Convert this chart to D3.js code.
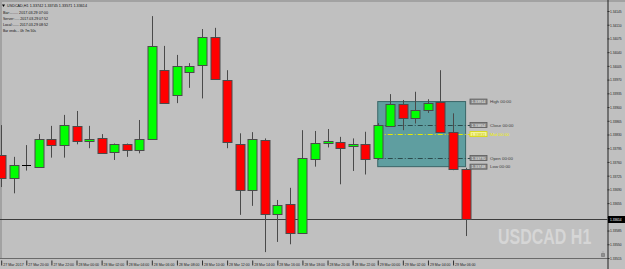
<!DOCTYPE html>
<html><head><meta charset="utf-8">
<script src="https://cdn.jsdelivr.net/npm/d3@7"></script>
<style>body{margin:0;background:#c0c0c0;overflow:hidden}svg{display:block}</style>
</head><body><svg id="c" width="625" height="269"></svg>
<script>
const times = ["27 Mar 18:00","27 Mar 19:00","27 Mar 20:00","27 Mar 21:00","27 Mar 22:00","27 Mar 23:00",
"28 Mar 00:00","28 Mar 01:00","28 Mar 02:00","28 Mar 03:00","28 Mar 04:00","28 Mar 05:00","28 Mar 06:00","28 Mar 07:00",
"28 Mar 08:00","28 Mar 09:00","28 Mar 10:00","28 Mar 11:00","28 Mar 12:00","28 Mar 13:00","28 Mar 14:00","28 Mar 15:00",
"28 Mar 16:00","28 Mar 17:00","28 Mar 18:00","28 Mar 19:00","28 Mar 20:00","28 Mar 21:00","28 Mar 22:00","28 Mar 23:00",
"29 Mar 00:00","29 Mar 01:00","29 Mar 02:00","29 Mar 03:00","29 Mar 04:00","29 Mar 05:00","29 Mar 06:00","29 Mar 07:00"];
const openP  = [1.33778,1.33719,1.33751,1.33748,1.33818,1.33802,1.33852,1.33814,1.33821,1.33785,1.33805,1.33792,1.33818,1.33994,1.33931,1.33990,1.34006,1.34079,1.33969,1.33807,1.33688,1.33816,1.33626,1.33653,1.33578,1.33769,1.33808,1.33812,1.33801,1.33807,1.33770,1.33854,1.33907,1.33871,1.33894,1.33913,1.33836,1.33742];
const highP  = [1.33854,1.33773,1.33803,1.33831,1.33852,1.33880,1.33890,1.33852,1.33831,1.33807,1.33807,1.33867,1.34132,1.34056,1.34033,1.34012,1.34099,1.34102,1.33994,1.33833,1.33836,1.33820,1.33663,1.33694,1.33841,1.33839,1.33844,1.33824,1.33820,1.33837,1.33859,1.33933,1.33918,1.33939,1.33920,1.33994,1.33884,1.33745];
const lowP   = [1.33696,1.33680,1.33738,1.33746,1.33771,1.33771,1.33805,1.33795,1.33783,1.33765,1.33773,1.33782,1.33816,1.33908,1.33910,1.33949,1.33922,1.33971,1.33795,1.33625,1.33648,1.33530,1.33556,1.33550,1.33578,1.33748,1.33797,1.33703,1.33737,1.33728,1.33765,1.33850,1.33841,1.33858,1.33885,1.33834,1.33739,1.33571];
const closeP = [1.33719,1.33751,1.33751,1.33819,1.33802,1.33853,1.33815,1.33819,1.33783,1.33805,1.33790,1.33819,1.34056,1.33910,1.34005,1.34005,1.34078,1.33973,1.33810,1.33690,1.33818,1.33626,1.33649,1.33579,1.33769,1.33809,1.33813,1.33797,1.33807,1.33769,1.33854,1.33909,1.33871,1.33892,1.33911,1.33836,1.33742,1.33614];
const timeTickTimes = ["27 Mar 18:00","27 Mar 20:00","27 Mar 22:00","28 Mar 00:00","28 Mar 02:00","28 Mar 04:00","28 Mar 06:00","28 Mar 08:00","28 Mar 10:00","28 Mar 12:00","28 Mar 14:00","28 Mar 16:00","28 Mar 18:00","28 Mar 20:00","28 Mar 22:00","29 Mar 00:00","29 Mar 02:00","29 Mar 04:00","29 Mar 06:00"];
const timeTickLabels = ["27 Mar 2017","27 Mar 20:00","27 Mar 22:00","28 Mar 00:00","28 Mar 02:00","28 Mar 04:00","28 Mar 06:00","28 Mar 08:00","28 Mar 10:00","28 Mar 12:00","28 Mar 14:00","28 Mar 16:00","28 Mar 18:00","28 Mar 20:00","28 Mar 22:00","29 Mar 00:00","29 Mar 02:00","29 Mar 04:00","29 Mar 06:00"];
const priceTicks = [1.34145,1.34110,1.34075,1.34040,1.34005,1.33970,1.33935,1.33900,1.33865,1.33830,1.33795,1.33760,1.33725,1.33690,1.33655,1.33620,1.33585,1.33550,1.33515];
const currentPrice = 1.33614;
const levelNames  = ["High 00:00","Close 00:00","Mid 00:00","Open 00:00","Low 00:00"];
const levelValues = [1.33914,1.33854,1.33831,1.33770,1.33748];
const boxFrom = "29 Mar 00:00", boxTo = "29 Mar 07:00";
const infoLines = ["USDCAD,H1  1.33742 1.33745 1.33571 1.33614","Bar:........ 2017.03.29 07:00","Server:..... 2017.03.29 07:52","Local:...... 2017.03.29 08:52","Bar ends... 0h 7m 50s"];
const watermark = "USDCAD H1";

const svg = d3.select("#c");
const W=625,H=269, axisX=607.5, plotBottom=258.5;
const x = d3.scalePoint().domain(times).range([1.2, 465.6]);
const y = d3.scaleLinear().domain([1.34145,1.33515]).range([11,258]);
const F = "'Liberation Sans', Arial, sans-serif";

svg.append("rect").attr("width",W).attr("height",H).attr("fill","#c0c0c0");
svg.append("rect").attr("x",0).attr("y",0).attr("width",W).attr("height",2).attr("fill","#a2a2a2");
svg.append("rect").attr("x",0).attr("y",0).attr("width",2).attr("height",plotBottom).attr("fill","#a2a2a2");

// watermark
svg.append("text").attr("transform","translate(498,244) scale(1,1.4)").attr("font-family",F).attr("font-weight","bold")
  .attr("font-size",16).attr("fill","#d6d6d6").text(watermark);

// rectangle object
const yHi=y(levelValues[0]), yLo=y(levelValues[4]);
svg.append("rect").attr("x",x(boxFrom)).attr("y",yHi).attr("width",x(boxTo)-x(boxFrom)).attr("height",yLo-yHi)
  .attr("fill","#5f9ea0").attr("stroke","#3a6668").attr("stroke-width",1);

// level lines
const lineEnd=470;
levelValues.forEach((v,i)=>{
  const yy=Math.round(y(v))+0.5;
  const isMid = levelNames[i].startsWith("Mid");
  if(i===1||i===2||i===3){
    svg.append("line").attr("x1",x(boxFrom)).attr("x2",lineEnd).attr("y1",yy).attr("y2",yy)
      .attr("stroke",isMid?"#e8e800":"#2c4a4c").attr("stroke-width",1).attr("stroke-dasharray","5,2,1,2");
  }
});

// current price line
const yc=Math.round(y(currentPrice))+0.5;
svg.append("line").attr("x1",0).attr("x2",axisX).attr("y1",yc).attr("y2",yc).attr("stroke","#3c3c3c").attr("stroke-width",1);

// candles
const data = times.map((t,i)=>({t,o:openP[i],h:highP[i],l:lowP[i],c:closeP[i]}));
const g = svg.append("g");
const bw=9;
data.forEach(d=>{
  const cx=Math.round(x(d.t))+0.5;
  g.append("line").attr("x1",cx).attr("x2",cx).attr("y1",y(d.h)).attr("y2",y(d.l)).attr("stroke","#4a4a4a").attr("stroke-width",1);
  const top=y(Math.max(d.o,d.c)), bot=y(Math.min(d.o,d.c));
  if(Math.abs(d.o-d.c)<0.000005){
    g.append("line").attr("x1",cx-bw/2).attr("x2",cx+bw/2).attr("y1",Math.round(top)+0.5).attr("y2",Math.round(top)+0.5).attr("stroke","#000").attr("stroke-width",1);
  } else {
    g.append("rect").attr("x",cx-bw/2).attr("y",Math.round(top)+0.5).attr("width",bw).attr("height",Math.max(1,Math.round(bot-top)))
      .attr("fill",d.c>d.o?"#00ff00":"#ff0000").attr("stroke","#4a4a4a").attr("stroke-width",1);
  }
});

// level labels
levelValues.forEach((v,i)=>{
  const yy=y(v);
  const isMid = levelNames[i].startsWith("Mid");
  svg.append("rect").attr("x",470).attr("y",yy-2.5).attr("width",17).attr("height",5)
    .attr("fill",isMid?"#f4f49a":"#8c8c8c").attr("stroke",isMid?"#d8d800":"#5a5a5a").attr("stroke-width",0.8);
  svg.append("text").attr("x",471.5).attr("y",yy+1.6).attr("font-family",F).attr("font-size",4.2)
    .attr("fill",isMid?"#c8c800":"#f0f0f0").attr("textLength",14).attr("lengthAdjust","spacingAndGlyphs").text(d3.format(".5f")(v));
  svg.append("text").attr("x",490).attr("y",yy+1.6).attr("font-family",F).attr("font-size",4.4)
    .attr("fill",isMid?"#f0f000":"#3a3a3a").text(levelNames[i]);
});

// bottom separator
svg.append("line").attr("x1",0).attr("x2",axisX).attr("y1",plotBottom).attr("y2",plotBottom).attr("stroke","#6a6a6a").attr("stroke-width",1);

// price axis
const ya = svg.append("g").attr("transform",`translate(${axisX},0)`)
  .call(d3.axisRight(y).tickValues(priceTicks).tickFormat(d3.format(".5f")).tickSize(2).tickPadding(0.5));
ya.select(".domain").attr("stroke","#202020").attr("d",`M0.5,0V${H}`);
ya.selectAll(".tick line").attr("stroke","#303030");
ya.selectAll(".tick text").attr("font-family",F).attr("font-size",4.2).attr("fill","#202020")
  .attr("textLength",11.5).attr("lengthAdjust","spacingAndGlyphs")
  .attr("display",d=>Math.abs(y(d)-y(currentPrice))<5?"none":null);

// current price box
svg.append("rect").attr("x",axisX+0.5).attr("y",yc-3.5).attr("width",W-axisX).attr("height",7).attr("fill","#000");
svg.append("text").attr("x",610).attr("y",yc+1.6).attr("font-family",F).attr("font-size",4.2).attr("fill","#fff")
  .attr("textLength",11.5).attr("lengthAdjust","spacingAndGlyphs").text(d3.format(".5f")(currentPrice));

// time axis
const lblMap = new Map(timeTickTimes.map((t,i)=>[t,timeTickLabels[i]]));
const xa = svg.append("g").attr("transform",`translate(0,${plotBottom+2})`)
  .call(d3.axisBottom(x).tickValues(timeTickTimes).tickFormat(t=>lblMap.get(t)).tickSize(5).tickSizeOuter(0));
xa.select(".domain").remove();
xa.selectAll(".tick line").attr("stroke","#303030");
xa.selectAll(".tick text").attr("font-family",F).attr("font-size",4.4).attr("fill","#202020")
  .attr("text-anchor","start").attr("x",1.5).attr("y",2).attr("dy","3.2")
  .attr("textLength",20.5).attr("lengthAdjust","spacingAndGlyphs");

// info text
svg.append("path").attr("d","M2,4.5L5,4.5L3.5,7Z").attr("fill","#000");
infoLines.forEach((s,i)=>{
  svg.append("text").attr("x",i===0?7:3).attr("y",[7,13.5,19.5,25.5,32][i]).attr("font-family",F).attr("font-size",4.4)
    .attr("fill","#111").attr("textLength",[80,45,45,45,33][i]).attr("lengthAdjust","spacingAndGlyphs").text(s);
});

// small icon bottom right
svg.append("path").attr("d","M601.5,253.5h3v3h-3z M602.5,252h1").attr("fill","#909090").attr("stroke","#707070").attr("stroke-width",0.6);
</script></body></html>
